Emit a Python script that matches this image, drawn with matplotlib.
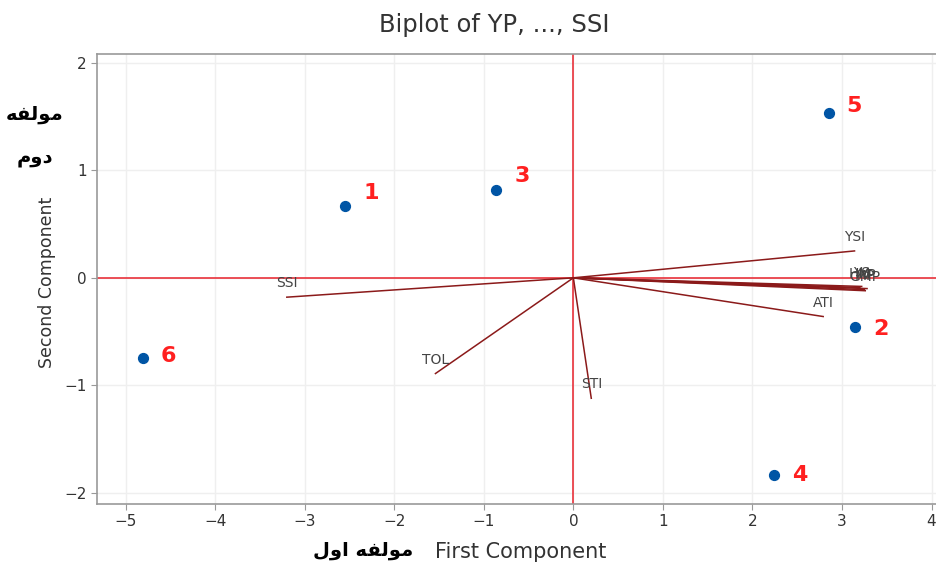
import matplotlib.pyplot as plt

# Persian labels as shaped presentation forms, already in left-to-right display
# order, because matplotlib neither shapes nor reorders Arabic script
fa_second = ["\uFEEA\uFED4\uFEDF\uFEEE\uFEE3", "\uFEE1\uFEED\uFEA9"]   # مولفه / دوم
fa_first = "\uFEDD\uFEED\uFE8D \uFEEA\uFED4\uFEDF\uFEEE\uFEE3"          # مولفه اول

# scores of the genotypes
geno = ["1", "2", "3", "4", "5", "6"]
score_x = [-2.55, 3.15, -0.86, 2.24, 2.85, -4.81]
score_y = [0.67, -0.46, 0.82, -1.83, 1.53, -0.75]
num_dy = [9, -1, 10, 0, 5, 2]   # vertical nudge of the number labels, points

# loadings of the indices (scaled as in the biplot)
var_names = ["YP", "YS", "MP", "GMP", "HM", "YSI", "ATI", "SSI", "TOL", "STI"]
load_x = [3.28, 3.22, 3.25, 3.26, 3.20, 3.14, 2.79, -3.20, -1.54, 0.20]
load_y = [-0.10, -0.08, -0.11, -0.12, -0.09, 0.25, -0.36, -0.18, -0.89, -1.12]

fig = plt.figure(figsize=(9.37, 5.64), dpi=100)
ax = fig.add_axes([0.1035, 0.107, 0.905, 0.797])

ax.set_xlim(-5.32, 4.15)
ax.set_ylim(-2.1, 2.08)
ax.set_xticks(range(-5, 5))
ax.set_yticks(range(-2, 3))
ax.grid(True, color="#efefef", lw=1)
ax.set_axisbelow(True)

for s in ["left", "bottom", "top"]:
    ax.spines[s].set_color("#999999")
    ax.spines[s].set_linewidth(1.2)
ax.spines["right"].set_visible(False)
ax.tick_params(colors="#999999", labelcolor="#333333", labelsize=11, length=4)

ax.axhline(0, color="#e8202a", lw=1.1, zorder=2)
ax.axvline(0, color="#e8202a", lw=1.1, zorder=2)

for name, vx, vy in zip(var_names, load_x, load_y):
    ax.plot([0, vx], [0, vy], color="#8b1a1a", lw=1.1, zorder=3)
    ax.annotate(name, (vx, vy), xytext=(0, 10), textcoords="offset points",
                ha="center", va="center", fontsize=10, color="#444444", zorder=4)

ax.scatter(score_x, score_y, s=50, color="#0055a5", zorder=5)
for g, sx, sy, dy in zip(geno, score_x, score_y, num_dy):
    ax.annotate(g, (sx, sy), xytext=(13, dy), textcoords="offset points",
                ha="left", va="center", fontsize=16, fontweight="bold",
                color="#ff2020", zorder=6)

fig.text(0.527, 0.955, "Biplot of YP, ..., SSI", ha="center", va="center",
         fontsize=17.5, color="#333333")
fig.text(0.556, 0.021, "First Component", ha="center", va="center",
         fontsize=15, color="#333333")
fig.text(0.05, 0.50, "Second Component", ha="center", va="center",
         rotation=90, fontsize=12.5, color="#333333")

fig.text(0.388, 0.024, fa_first, ha="center", va="center", fontsize=14,
         fontweight="bold", color="black", family="DejaVu Sans")
fig.text(0.037, 0.797, fa_second[0], ha="center", va="center", fontsize=14,
         fontweight="bold", color="black", family="DejaVu Sans")
fig.text(0.037, 0.72, fa_second[1], ha="center", va="center", fontsize=14,
         fontweight="bold", color="black", family="DejaVu Sans")

plt.savefig("out.png", dpi=100)
